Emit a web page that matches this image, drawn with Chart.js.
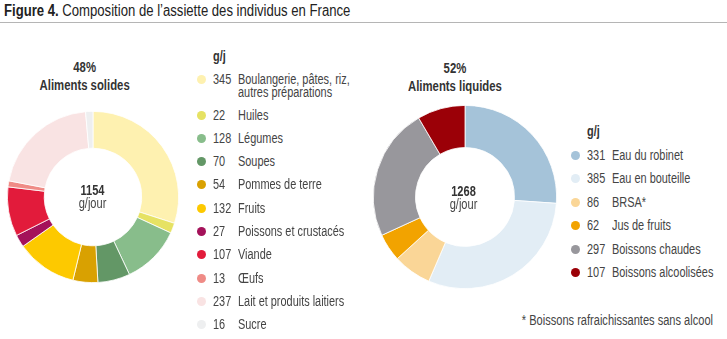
<!DOCTYPE html>
<html lang="fr">
<head>
  <meta charset="UTF-8" />
  <title>Composition de l'assiette des individus en France</title>
  <script src="https://cdn.jsdelivr.net/npm/chart.js"></script>
  <style>
    body {
      margin: 0;
      background: #fff;
      font-family: 'Liberation Sans', Arial, sans-serif;
      color: #333;
    }
    #wrap { position: relative; width: 727px; height: 339px; overflow: hidden; }
    .abs { position: absolute; }
    /* narrow look of the original (condensed sans) */
    .cond { display: inline-block; transform: scaleX(0.79); transform-origin: left center; white-space: nowrap; }
    .condC { transform-origin: center center; }
    .condR { transform-origin: right center; }
    #title { left: 4px; top: 2px; font-size: 16px; color: #222; transform: scaleX(0.82); }
    #rule { left: 0; top: 22px; width: 727px; height: 0; border-top: 1.5px solid #b5b5b5; }
    .head { text-align: center; font-weight: bold; font-size: 14px; line-height: 18px; color: #333; width: 160px; }
    .head .cond { transform: scaleX(0.81); }
    .center { text-align: center; font-size: 14px; line-height: 12px; width: 80px; color: #444; }
    .center b { display: block; color: #333; margin-bottom: 1px; }
    .legend { font-size: 14px; color: #444; }
    .legend .gj { position: relative; font-weight: bold; font-size: 14px; color: #333; height: 14px; line-height: 14px; }
    .legend .row { position: relative; line-height: 13px; white-space: nowrap; }
    .legend .dot { position: absolute; width: 9px; height: 9px; border-radius: 50%; top: 2px; }
    .legend .num, .legend .lab { position: absolute; top: 0; }
    .legend .cond { transform: scaleX(0.78); }
    #foot { right: 14px; top: 312px; font-size: 14px; color: #444; }
  </style>
</head>
<body>
<div id="wrap">
  <div id="title" class="abs cond"><b>Figure 4.</b> Composition de l’assiette des individus en France</div>
  <div id="rule" class="abs"></div>

  <div class="abs head" style="left:5px; top:58px;"><span class="cond condC">48%<br>Aliments solides</span></div>
  <div class="abs head" style="left:375px; top:59px;"><span class="cond condC">52%<br>Aliments liquides</span></div>

  <canvas id="solides" class="abs" width="172" height="172" style="left:7px; top:111px;"></canvas>
  <canvas id="liquides" class="abs" width="184" height="184" style="left:373px; top:105px;"></canvas>

  <div class="abs center" style="left:53px; top:184px;"><span class="cond condC"><b>1154</b>g/jour</span></div>
  <div class="abs center" style="left:424px; top:185px;"><span class="cond condC"><b>1268</b>g/jour</span></div>

  <div id="legSolides" class="abs legend" style="left:197px; top:49px;"></div>
  <div id="legLiquides" class="abs legend" style="left:571px; top:124px;"></div>

  <div id="foot" class="abs cond condR">* Boissons rafraichissantes sans alcool</div>
</div>

<script>
  // ── Aliments solides (g/j) ─────────────────────────────
  const solidLabels = [
    'Boulangerie, pâtes, riz,<br>autres préparations',
    'Huiles', 'Légumes', 'Soupes', 'Pommes de terre', 'Fruits',
    'Poissons et crustacés', 'Viande', 'Œufs', 'Lait et produits laitiers', 'Sucre'
  ];
  const solidValues = [345, 22, 128, 70, 54, 132, 27, 107, 13, 237, 16];
  const solidColors = [
    '#fef1b0', '#e6e263', '#88bd8b', '#639766', '#d9a101', '#fdc900',
    '#a4125a', '#e21b3b', '#ef8b86', '#f9e3e3', '#eeeff0'
  ];

  // ── Aliments liquides (g/j) ────────────────────────────
  const liquidLabels = [
    'Eau du robinet', 'Eau en bouteille', 'BRSA*', 'Jus de fruits',
    'Boissons chaudes', 'Boissons alcoolisées'
  ];
  const liquidValues = [331, 385, 86, 62, 297, 107];
  const liquidColors = ['#a5c3d9', '#e2edf5', '#fad697', '#f2a300', '#98979c', '#9b0007'];

  function donut(id, values, colors, cutout) {
    new Chart(document.getElementById(id), {
      type: 'doughnut',
      data: {
        datasets: [{
          data: values,
          backgroundColor: colors,
          borderColor: '#ffffff',
          borderWidth: 0.8
        }]
      },
      options: {
        responsive: false,
        animation: false,
        cutout: cutout,
        layout: { padding: 0 },
        plugins: { legend: { display: false }, tooltip: { enabled: false } }
      }
    });
  }

  donut('solides', solidValues, solidColors, '57%');
  donut('liquides', liquidValues, liquidColors, '54%');

  // HTML legends
  function buildLegend(id, labels, values, colors, rowGap, numX, labX) {
    const el = document.getElementById(id);
    let html = '<div class="gj"><span class="cond" style="position:absolute; left:' + numX + 'px">g/j</span></div>';
    labels.forEach((lab, i) => {
      const lines = lab.split('<br>').length;
      html += '<div class="row" style="height:' + (12 * lines + 1) + 'px; margin-top:' + rowGap + 'px">' +
        '<span class="dot" style="left:0; background:' + colors[i] + '"></span>' +
        '<span class="num cond" style="left:' + numX + 'px">' + values[i] + '</span>' +
        '<span class="lab cond" style="left:' + labX + 'px">' + lab + '</span></div>';
    });
    el.innerHTML = html;
  }

  buildLegend('legSolides', solidLabels, solidValues, solidColors, 10.3, 16, 41);
  buildLegend('legLiquides', liquidLabels, liquidValues, liquidColors, 10.5, 16, 41);
</script>
</body>
</html>
